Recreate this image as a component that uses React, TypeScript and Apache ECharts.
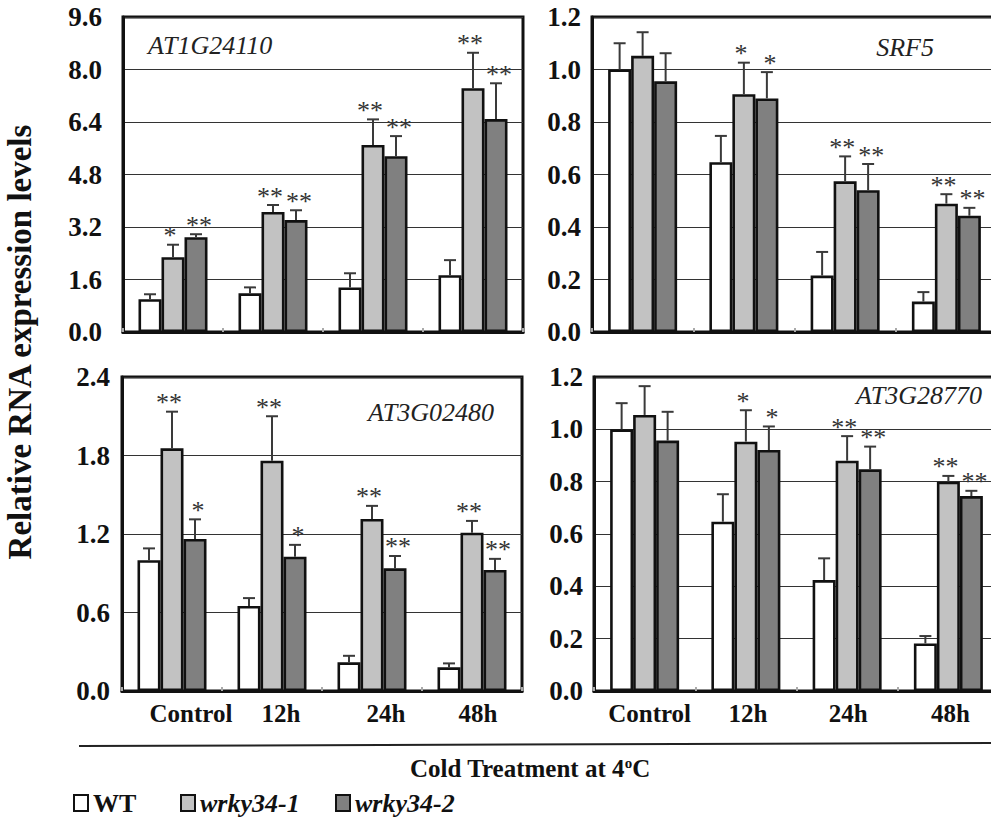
import React, { useEffect, useRef } from "react";
import * as echarts from "echarts";

// ---------- data ----------
const categories = ["Control", "12h", "24h", "48h"];
const seriesNames = ["WT", "wrky34-1", "wrky34-2"];
const panelTitles = ["AT1G24110", "SRF5", "AT3G02480", "AT3G28770"];

// y axis ranges per panel
const yMax = [9.6, 1.2, 2.4, 1.2];
const yInterval = [1.6, 0.2, 0.6, 0.2];

// AT1G24110
const at1g24110WT = [1.0, 1.18, 1.36, 1.73];
const at1g24110WTErr = [0.15, 0.18, 0.43, 0.46];
const at1g24110M1 = [2.28, 3.66, 5.7, 7.43];
const at1g24110M1Err = [0.38, 0.21, 0.78, 1.08];
const at1g24110M2 = [2.89, 3.41, 5.36, 6.49];
const at1g24110M2Err = [0.09, 0.3, 0.61, 1.09];
const at1g24110M1Sig = ["*", "**", "**", "**"];
const at1g24110M2Sig = ["**", "**", "**", "**"];

// SRF5
const srf5WT = [1.0, 0.647, 0.215, 0.116];
const srf5WTErr = [0.1, 0.1, 0.09, 0.036];
const srf5M1 = [1.052, 0.906, 0.574, 0.489];
const srf5M1Err = [0.09, 0.12, 0.095, 0.036];
const srf5M2 = [0.955, 0.89, 0.54, 0.443];
const srf5M2Err = [0.107, 0.1, 0.1, 0.03];
const srf5M1Sig = ["", "*", "**", "**"];
const srf5M2Sig = ["", "*", "**", "**"];

// AT3G02480
const at3g02480WT = [1.0, 0.65, 0.219, 0.181];
const at3g02480WTErr = [0.09, 0.06, 0.05, 0.03];
const at3g02480M1 = [1.855, 1.76, 1.315, 1.21];
const at3g02480M1Err = [0.28, 0.34, 0.1, 0.09];
const at3g02480M2 = [1.162, 1.027, 0.938, 0.925];
const at3g02480M2Err = [0.15, 0.09, 0.094, 0.085];
const at3g02480M1Sig = ["**", "**", "**", "**"];
const at3g02480M2Sig = ["*", "*", "**", "**"];

// AT3G28770
const at3g28770WT = [1.0, 0.647, 0.424, 0.182];
const at3g28770WTErr = [0.1, 0.105, 0.083, 0.028];
const at3g28770M1 = [1.055, 0.953, 0.88, 0.8];
const at3g28770M1Err = [0.11, 0.12, 0.094, 0.022];
const at3g28770M2 = [0.957, 0.921, 0.847, 0.745];
const at3g28770M2Err = [0.11, 0.09, 0.087, 0.02];
const at3g28770M1Sig = ["", "*", "**", "**"];
const at3g28770M2Sig = ["", "*", "**", "**"];

const noSig = ["", "", "", ""];

const panels = [
  {
    values: [at1g24110WT, at1g24110M1, at1g24110M2],
    errs: [at1g24110WTErr, at1g24110M1Err, at1g24110M2Err],
    sigs: [noSig, at1g24110M1Sig, at1g24110M2Sig],
  },
  {
    values: [srf5WT, srf5M1, srf5M2],
    errs: [srf5WTErr, srf5M1Err, srf5M2Err],
    sigs: [noSig, srf5M1Sig, srf5M2Sig],
  },
  {
    values: [at3g02480WT, at3g02480M1, at3g02480M2],
    errs: [at3g02480WTErr, at3g02480M1Err, at3g02480M2Err],
    sigs: [noSig, at3g02480M1Sig, at3g02480M2Sig],
  },
  {
    values: [at3g28770WT, at3g28770M1, at3g28770M2],
    errs: [at3g28770WTErr, at3g28770M1Err, at3g28770M2Err],
    sigs: [noSig, at3g28770M1Sig, at3g28770M2Sig],
  },
];

// ---------- styles ----------
const SERIF = "Liberation Serif, Times New Roman, serif";
const BAR_W = 23;
const barColors = ["#ffffff", "#c2c2c2", "#808080"];
const sigShift = [0, -3, 3];
const gridRects = [
  { left: 123, top: 17, width: 400, height: 315 },
  { left: 592, top: 17, width: 405, height: 315 },
  { left: 122, top: 377, width: 400, height: 314 },
  { left: 594, top: 377, width: 405, height: 314 },
];
const yLabelMargin = [21, 11, 12, 11];
const xLabelShiftLeft = [38, 18, 28, 12];
const xLabelShiftRight = [10, 4, 2, 4];

function buildOption() {
  const grid = gridRects.map((g) => ({
    ...g,
    show: true,
    borderColor: "#111",
    borderWidth: 3,
    backgroundColor: "transparent",
  }));

  const xAxis = gridRects.map((_, p) => {
    const shifts = p === 2 ? xLabelShiftLeft : xLabelShiftRight;
    const rich: any = {};
    shifts.forEach((s, i) => {
      rich["p" + i] = {
        fontFamily: SERIF,
        fontWeight: "bold",
        fontSize: 25,
        color: "#111",
        padding: [0, 0, 0, s],
      };
    });
    return {
      gridIndex: p,
      type: "category",
      data: categories,
      axisLine: { lineStyle: { color: "#111", width: 3 } },
      axisTick: { show: true, inside: true, length: 4, lineStyle: { color: "#aaa", width: 2 } },
      splitLine: { show: false },
      axisLabel: {
        show: p >= 2,
        margin: 10,
        interval: 0,
        fontFamily: SERIF,
        fontWeight: "bold",
        fontSize: 25,
        color: "#111",
        formatter: (v: string, i: number) => `{p${i}|${v}}`,
        rich,
      },
    };
  });

  const yAxis = gridRects.map((_, p) => ({
    gridIndex: p,
    type: "value",
    min: 0,
    max: yMax[p],
    interval: yInterval[p],
    axisLine: { show: true, lineStyle: { color: "#111", width: 3 } },
    axisTick: { show: false },
    splitLine: { show: true, lineStyle: { color: "#333", width: 1.2 } },
    axisLabel: {
      margin: yLabelMargin[p],
      formatter: (v: number) => v.toFixed(1),
      fontFamily: SERIF,
      fontWeight: "bold",
      fontSize: 27,
      color: "#111",
    },
  }));

  const series: any[] = [];
  panels.forEach((panel, p) => {
    panel.values.forEach((vals, s) => {
      series.push({
        type: "bar",
        name: seriesNames[s],
        xAxisIndex: p,
        yAxisIndex: p,
        data: vals,
        barWidth: BAR_W,
        barGap: "0%",
        itemStyle: { color: barColors[s], borderColor: "#111", borderWidth: 2.6 },
        z: 2,
      });
    });
    panel.values.forEach((vals, s) => {
      const errs = panel.errs[s];
      const sigs = panel.sigs[s];
      series.push({
        type: "custom",
        name: seriesNames[s] + "-err",
        xAxisIndex: p,
        yAxisIndex: p,
        z: 4,
        clip: false,
        encode: { x: 0, y: 1 },
        data: vals.map((v, i) => [i, v + errs[i]]),
        renderItem: (params: any, api: any) => {
          const i = params.dataIndex;
          const base = api.coord([i, vals[i]]);
          const top = api.coord([i, vals[i] + errs[i]]);
          const x = base[0] + (s - 1) * BAR_W;
          const children: any[] = [
            {
              type: "line",
              shape: { x1: x, y1: base[1], x2: x, y2: top[1] },
              style: { stroke: "#3a3a3a", lineWidth: 2 },
            },
            {
              type: "line",
              shape: { x1: x - 6, y1: top[1], x2: x + 6, y2: top[1] },
              style: { stroke: "#3a3a3a", lineWidth: 2 },
            },
          ];
          if (sigs[i]) {
            children.push({
              type: "text",
              x: x + sigShift[s],
              y: top[1] - 9,
              style: {
                text: sigs[i],
                align: "center",
                verticalAlign: "middle",
                fontFamily: SERIF,
                fontSize: 26,
                fill: "#333",
              },
            });
          }
          return { type: "group", children };
        },
      });
    });
  });

  const legendBase = {
    top: 790,
    padding: 0,
    itemWidth: 14,
    itemHeight: 16,
    icon: "rect",
    selectedMode: false,
    itemStyle: { borderWidth: 2, borderColor: "#111" },
  };

  const legend = [
    {
      ...legendBase,
      left: 73,
      data: [seriesNames[0]],
      textStyle: { fontFamily: SERIF, fontWeight: "bold", fontSize: 26, color: "#111" },
    },
    {
      ...legendBase,
      left: 180,
      data: [seriesNames[1]],
      textStyle: { fontFamily: SERIF, fontWeight: "bold", fontStyle: "italic", fontSize: 26, color: "#111" },
    },
    {
      ...legendBase,
      left: 335,
      data: [seriesNames[2]],
      textStyle: { fontFamily: SERIF, fontWeight: "bold", fontStyle: "italic", fontSize: 26, color: "#111" },
    },
  ];

  const titleStyle = {
    fontFamily: SERIF,
    fontStyle: "italic",
    fontSize: 26,
    fill: "#222",
    verticalAlign: "middle",
  };

  const graphic = [
    { type: "text", x: 148, y: 45, style: { ...titleStyle, text: panelTitles[0], align: "left" } },
    { type: "text", x: 905, y: 47, style: { ...titleStyle, text: panelTitles[1], align: "center" } },
    { type: "text", x: 431, y: 412, style: { ...titleStyle, text: panelTitles[2], align: "center" } },
    { type: "text", x: 919, y: 395, style: { ...titleStyle, text: panelTitles[3], align: "center" } },
    {
      type: "text",
      x: 20,
      y: 342,
      rotation: Math.PI / 2,
      style: {
        text: "Relative RNA expression levels",
        align: "center",
        verticalAlign: "middle",
        fontFamily: SERIF,
        fontWeight: "bold",
        fontSize: 33,
        fill: "#111",
      },
    },
    {
      type: "line",
      shape: { x1: 79, y1: 746, x2: 991, y2: 743 },
      style: { stroke: "#222", lineWidth: 2 },
    },
    {
      type: "text",
      x: 530,
      y: 768,
      style: {
        text: "{a|Cold Treatment at 4}{s|o}{a|C}",
        align: "center",
        verticalAlign: "middle",
        rich: {
          a: { fontFamily: SERIF, fontWeight: "bold", fontSize: 25, fill: "#111" },
          s: { fontFamily: SERIF, fontWeight: "bold", fontSize: 15, fill: "#111", verticalAlign: "top" },
        },
      },
    },
  ];

  return {
    animation: false,
    backgroundColor: "#ffffff",
    textStyle: { fontFamily: SERIF },
    grid,
    xAxis,
    yAxis,
    series,
    legend,
    graphic,
  };
}

export default function App() {
  const ref = useRef<HTMLDivElement>(null);
  useEffect(() => {
    if (!ref.current) return;
    const chart = echarts.init(ref.current, undefined, { renderer: "svg" });
    chart.setOption(buildOption() as any);
    return () => chart.dispose();
  }, []);
  return (
    <div
      style={{
        position: "absolute",
        left: 0,
        top: 0,
        width: 991,
        height: 821,
        overflow: "hidden",
        background: "#fff",
      }}
    >
      <div ref={ref} style={{ width: 1010, height: 821 }} />
    </div>
  );
}
